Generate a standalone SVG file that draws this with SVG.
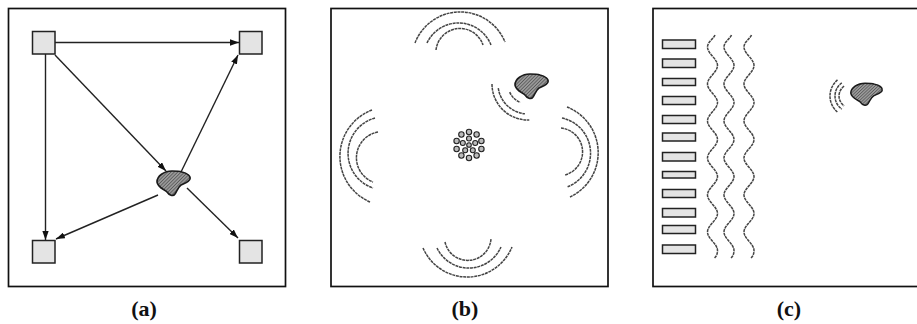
<svg xmlns="http://www.w3.org/2000/svg" xmlns:xlink="http://www.w3.org/1999/xlink" width="917" height="324" viewBox="0 0 917 324">
<style>
.frame{fill:none;stroke:#111;stroke-width:1.7}
.node{fill:#e4e4e4;stroke:#222;stroke-width:1.5}
.edge{stroke:#222;stroke-width:1.4;fill:none}
.wave{fill:none;stroke:#444;stroke-width:1.5;stroke-dasharray:3 0.7}
.blob{fill:url(#hatch);stroke:#1a1a1a;stroke-width:1.6}
.dot{fill:#bbb;stroke:#222;stroke-width:1.1}
.lbl{font-family:"Liberation Serif",serif;font-weight:bold;font-size:22px;fill:#111;text-anchor:middle}
</style>
<defs>
<pattern id="hatch" width="2.4" height="2.4" patternUnits="userSpaceOnUse" patternTransform="rotate(45)">
<rect width="2.4" height="2.4" fill="#999"/>
<line x1="0" y1="0" x2="0" y2="2.4" stroke="#333" stroke-width="1"/>
</pattern>
<marker id="arr" viewBox="0 0 10 7" refX="10" refY="3.5" markerWidth="9" markerHeight="6.3" markerUnits="userSpaceOnUse" orient="auto">
<path d="M0,0 L10,3.5 L0,7 z" fill="#111"/>
</marker>
<path id="blobshape" d="M -16,-1 C -16,-7 -9,-12 -1,-12 C 3,-12 6,-12 9,-11 C 14,-10 18,-7 17,-4 C 16,-1 12,0 8,2 C 5,4 4,8 2,11 C 0,14 -4,12 -6,9 C -9,6 -15,5 -16,-1 Z"/>
<path id="wavepath" d="M 2.5,35 C 1,39 -5,42 -5,47 C -5,53.7 5,58.8 5,65.5 C 5,72.2 -5,77.3 -5,84 C -5,90.7 5,95.8 5,102.5 C 5,109.2 -5,114.3 -5,121 C -5,127.7 5,132.8 5,139.5 C 5,146.2 -5,151.3 -5,158 C -5,164.7 5,169.8 5,176.5 C 5,183.2 -5,188.3 -5,195 C -5,201.7 5,206.8 5,213.5 C 5,220.2 -5,225.3 -5,232 C -5,238.7 5,243.8 5,250.5 C 5,254 4,256 2,258"/>
</defs>

<g id="panel-a">
<rect class="frame" x="8.5" y="8.5" width="277" height="278"/>
<g id="connectors-a">
<line class="edge" x1="55" y1="42.5" x2="239" y2="42.5" marker-end="url(#arr)"/>
<line class="edge" x1="45.5" y1="54" x2="45.5" y2="240" marker-end="url(#arr)"/>
<line class="edge" x1="55" y1="55" x2="166" y2="171" marker-end="url(#arr)"/>
<line class="edge" x1="181" y1="172" x2="238" y2="55" marker-end="url(#arr)"/>
<line class="edge" x1="158" y1="195" x2="56" y2="239" marker-end="url(#arr)"/>
<line class="edge" x1="187" y1="188" x2="238" y2="238" marker-end="url(#arr)"/>
</g>
<g id="node-tl"><rect class="node" x="32.5" y="31.5" width="22.5" height="22.5"/></g>
<g id="node-tr"><rect class="node" x="239.5" y="31.5" width="22.5" height="22.5"/></g>
<g id="node-bl"><rect class="node" x="32.5" y="240.5" width="22.5" height="22.5"/></g>
<g id="node-br"><rect class="node" x="239.5" y="240.5" width="22.5" height="22.5"/></g>
<g id="blob-a"><use xlink:href="#blobshape" href="#blobshape" class="blob" transform="translate(173,183)"/></g>
<text class="lbl" x="144" y="316">(a)</text>
</g>

<g id="panel-b">
<rect class="frame" x="331" y="8.5" width="277" height="278"/>
<g id="arcs-top" class="wave">
<path d="M 415 43 A 48.4 48.4 0 0 1 505 42"/>
<path d="M 427 43 A 34.9 34.9 0 0 1 491 45"/>
<path d="M 436 50 A 24.2 24.2 0 0 1 483 45"/>
</g>
<g id="arcs-left" class="wave">
<path d="M 372 110 A 49.6 49.6 0 0 0 370 202"/>
<path d="M 375 118 A 36.6 36.6 0 0 0 373 188"/>
<path d="M 378 132 A 26.1 26.1 0 0 0 373 182"/>
</g>
<g id="arcs-right" class="wave">
<path d="M 567 107 A 49 49 0 0 1 570 197"/>
<path d="M 562 118 A 36 36 0 0 1 567 187"/>
<path d="M 561 128 A 24 24 0 0 1 565 175"/>
</g>
<g id="arcs-bottom" class="wave">
<path d="M 423 248 A 48.3 48.3 0 0 0 512 247"/>
<path d="M 437 248 A 35.2 35.2 0 0 0 501 247"/>
<path d="M 445 242 A 23.3 23.3 0 0 0 491 239"/>
</g>
<g id="arcs-blob-b" class="wave">
<path d="M 492 84 A 36 36 0 0 0 529.3 120"/>
<path d="M 498.3 88.2 A 30 30 0 0 0 524.9 113.8"/>
<path d="M 509.7 92.1 A 20 20 0 0 0 520.2 102.4"/>
</g>
<g id="cluster">
<circle class="dot" cx="469" cy="132" r="2.7"/>
<circle class="dot" cx="476.6" cy="134.5" r="2.7"/>
<circle class="dot" cx="481.4" cy="141" r="2.7"/>
<circle class="dot" cx="481.4" cy="149" r="2.7"/>
<circle class="dot" cx="476.6" cy="155.5" r="2.7"/>
<circle class="dot" cx="469" cy="158" r="2.7"/>
<circle class="dot" cx="461.4" cy="155.5" r="2.7"/>
<circle class="dot" cx="456.6" cy="149" r="2.7"/>
<circle class="dot" cx="456.6" cy="141" r="2.7"/>
<circle class="dot" cx="461.4" cy="134.5" r="2.7"/>
<circle class="dot" cx="469" cy="138.5" r="2.5"/>
<circle class="dot" cx="475.2" cy="143" r="2.5"/>
<circle class="dot" cx="472.8" cy="150.3" r="2.5"/>
<circle class="dot" cx="465.2" cy="150.3" r="2.5"/>
<circle class="dot" cx="462.8" cy="143" r="2.5"/>
<circle class="dot" cx="469" cy="145" r="2.3"/>
</g>
<g id="blob-b"><use xlink:href="#blobshape" href="#blobshape" class="blob" transform="translate(531,86)"/></g>
<text class="lbl" x="465" y="316">(b)</text>
</g>

<g id="panel-c">
<rect class="frame" x="653" y="8.5" width="290" height="278"/>
<g id="bars">
<rect class="node" x="662.5" y="40" width="33" height="8.5"/>
<rect class="node" x="662.5" y="59" width="33" height="8.5"/>
<rect class="node" x="662.5" y="78.5" width="33" height="7"/>
<rect class="node" x="662.5" y="96.5" width="33" height="8"/>
<rect class="node" x="662.5" y="115.5" width="33" height="8"/>
<rect class="node" x="662.5" y="133" width="33" height="8"/>
<rect class="node" x="662.5" y="152.5" width="33" height="8.5"/>
<rect class="node" x="662.5" y="171.5" width="33" height="6.5"/>
<rect class="node" x="662.5" y="189.5" width="33" height="8"/>
<rect class="node" x="662.5" y="208.5" width="33" height="8.5"/>
<rect class="node" x="662.5" y="225.5" width="33" height="8"/>
<rect class="node" x="662.5" y="245" width="33" height="8.5"/>
</g>
<g id="waves" class="wave">
<use xlink:href="#wavepath" href="#wavepath" x="712.5"/>
<use xlink:href="#wavepath" href="#wavepath" x="729"/>
<use xlink:href="#wavepath" href="#wavepath" x="749"/>
</g>
<g id="arcs-blob-c" class="wave">
<path d="M 837.5 79.9 A 21 21 0 0 0 837.5 112.1"/>
<path d="M 841.8 82.9 A 16 16 0 0 0 841.8 109.1"/>
<path d="M 844.1 86.2 A 12 12 0 0 0 844.1 105.8"/>
</g>
<g id="blob-c"><use xlink:href="#blobshape" href="#blobshape" class="blob" transform="translate(866,94) scale(0.95,0.9)"/></g>
<text class="lbl" x="789" y="316">(c)</text>
</g>
</svg>
